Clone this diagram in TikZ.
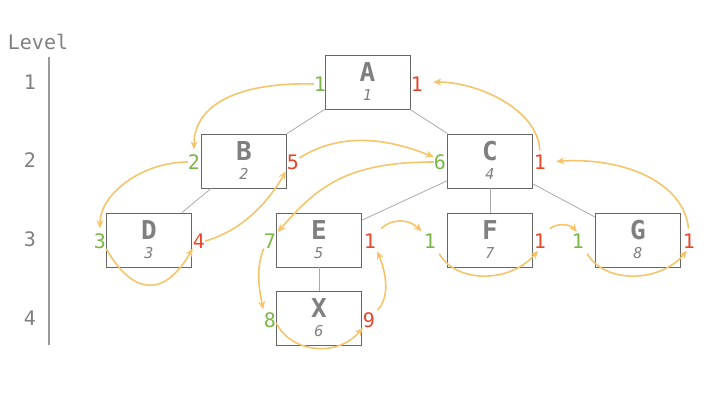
\documentclass[tikz,border=0pt]{standalone}
\usepackage{fontspec}
\setmainfont{DejaVu Sans Mono}
\usetikzlibrary{arrows.meta,calc}
\definecolor{txtgray}{HTML}{7F7F7F}
\definecolor{boxline}{HTML}{666666}
\definecolor{edgegray}{HTML}{AAAAAA}
\definecolor{ingreen}{HTML}{7AB648}
\definecolor{outred}{HTML}{E8472B}
\definecolor{arrorange}{HTML}{F6C46A}
\tikzset{
  vbox/.style={draw=boxline, line width=0.9pt, fill=white, minimum width=85pt, minimum height=54pt, inner sep=0pt},
  letter/.style={text=txtgray, font=\fontsize{26}{26}\selectfont\bfseries, inner sep=0pt},
  order/.style={text=txtgray, font=\fontsize{15}{15}\selectfont\itshape, inner sep=0pt},
  innum/.style={text=ingreen, font=\fontsize{20}{20}\selectfont, inner sep=0pt},
  outnum/.style={text=outred, font=\fontsize{20}{20}\selectfont, inner sep=0pt},
  lvl/.style={text=txtgray, font=\fontsize{20}{20}\selectfont, inner sep=0pt},
  tedge/.style={draw=edgegray, line width=0.8pt},
  arr/.style={draw=arrorange, line width=1.6pt, -{Stealth[length=8pt,width=7pt]}},
}
\begin{document}
\begin{tikzpicture}[x=1pt,y=-1pt]
\useasboundingbox (0,0) rectangle (720,405);
% level axis
\node[lvl] (lv) at (38,42) {Level};
\node[lvl] (l1) at (30,82) {1};
\node[lvl] (l2) at (30,160) {2};
\node[lvl] (l3) at (30,239) {3};
\node[lvl] (l4) at (30,318) {4};
\coordinate (axt) at (49,57);
\coordinate (axb) at (49,345);
\draw[draw=txtgray!80, line width=1.2pt] (axt) -- (axb);
% boxes
\node[vbox] (A) at (367.5,82) {};
\node[vbox] (B) at (244,161) {};
\node[vbox] (C) at (490,161) {};
\node[vbox] (D) at (149,240) {};
\node[vbox] (E) at (319,240) {};
\node[vbox] (F) at (490,240) {};
\node[vbox] (G) at (638,240) {};
\node[vbox] (X) at (319,318) {};
% tree edges
\path[tedge] (A) -- (B);
\path[tedge] (A) -- (C);
\path[tedge] (B) -- (D);
\path[tedge] (C) -- (E);
\path[tedge] (C) -- (F);
\path[tedge] (C) -- (G);
\path[tedge] (E) -- (X);
% box texts
\foreach \n/\l/\o in {A/A/1,B/B/2,C/C/4,D/D/3,E/E/5,F/F/7,G/G/8,X/X/6}{
  \node[letter] (\n-let) at ($(\n)+(0,-9.5)$) {\l};
  \node[order] (\n-ord) at ($(\n)+(0,13)$) {\o};
}
% port numbers
\node[innum] (Ag) at (320,84) {1};
\node[outnum] (Ar) at (417,84) {1};
\node[innum] (Bg) at (194,162) {2};
\node[outnum] (Br) at (293,162) {5};
\node[innum] (Cg) at (440,162) {6};
\node[outnum] (Cr) at (540,162) {1};
\node[innum] (Dg) at (100,241) {3};
\node[outnum] (Dr) at (199,241) {4};
\node[innum] (Eg) at (270,241) {7};
\node[outnum] (Er) at (370,241) {1};
\node[innum] (Fg) at (430,241) {1};
\node[outnum] (Fr) at (540,241) {1};
\node[innum] (Gg) at (578,241) {1};
\node[outnum] (Gr) at (689,241) {1};
\node[innum] (Xg) at (270,320) {8};
\node[outnum] (Xr) at (369,320) {9};
% traversal arrows
\draw[arr, shorten >=5pt] (Ag.west) .. controls +(-75,-2) and +(0,-50) .. (Bg.north);
\draw[arr, shorten >=5pt] (Bg.west) .. controls +(-45,0) and +(0,-40) .. (Dg.north);
\draw[arr] (Dg.south east) .. controls +(25,44) and +(-30,52) .. (Dr.south west);
\draw[arr, shorten >=2pt] (Dr.east) .. controls +(35,-10) and +(-20,35) .. (Br.south west);
\draw[arr] ([yshift=4pt]Br.east) .. controls +(40,-25) and +(-50,-20) .. ([yshift=5pt]Cg.west);
\draw[arr, shorten >=2pt] (Cg.west) .. controls +(-90,0) and +(40,-45) .. (Eg.north east);
\draw[arr, shorten >=3pt] (Eg.south west) .. controls +(-8,20) and +(-5,-25) .. (Xg.north west);
\draw[arr] ([yshift=-3pt]Xg.east) .. controls +(15,30) and +(-25,30) .. (Xr.south west);
\draw[arr, shorten >=3pt, shorten <=3pt] (Xr.north east) .. controls +(15,-15) and +(10,25) .. (Er.south east);
\draw[arr, shorten <=7pt, shorten >=3pt] (Er.north east) .. controls +(15,-15) and +(-15,-15) .. (Fg.north west);
\draw[arr, shorten <=6pt, shorten >=3pt] (Fg.south east) .. controls +(20,35) and +(-30,35) .. (Fr.south);
\draw[arr, shorten <=6pt, shorten >=2pt] (Fr.north east) .. controls +(8,-10) and +(-8,-10) .. (Gg.north);
\draw[arr, shorten <=6pt, shorten >=3pt] (Gg.south east) .. controls +(20,35) and +(-30,35) .. (Gr.south);
\draw[arr, shorten <=5pt, shorten >=10pt] (Gr.north) .. controls +(-5,-50) and +(80,-5) .. (Cr.east);
\draw[arr, shorten <=4pt, shorten >=10pt] (Cr.north) .. controls +(-2,-45) and +(55,0) .. ([yshift=2pt]Ar.east);
\end{tikzpicture}
\end{document}
